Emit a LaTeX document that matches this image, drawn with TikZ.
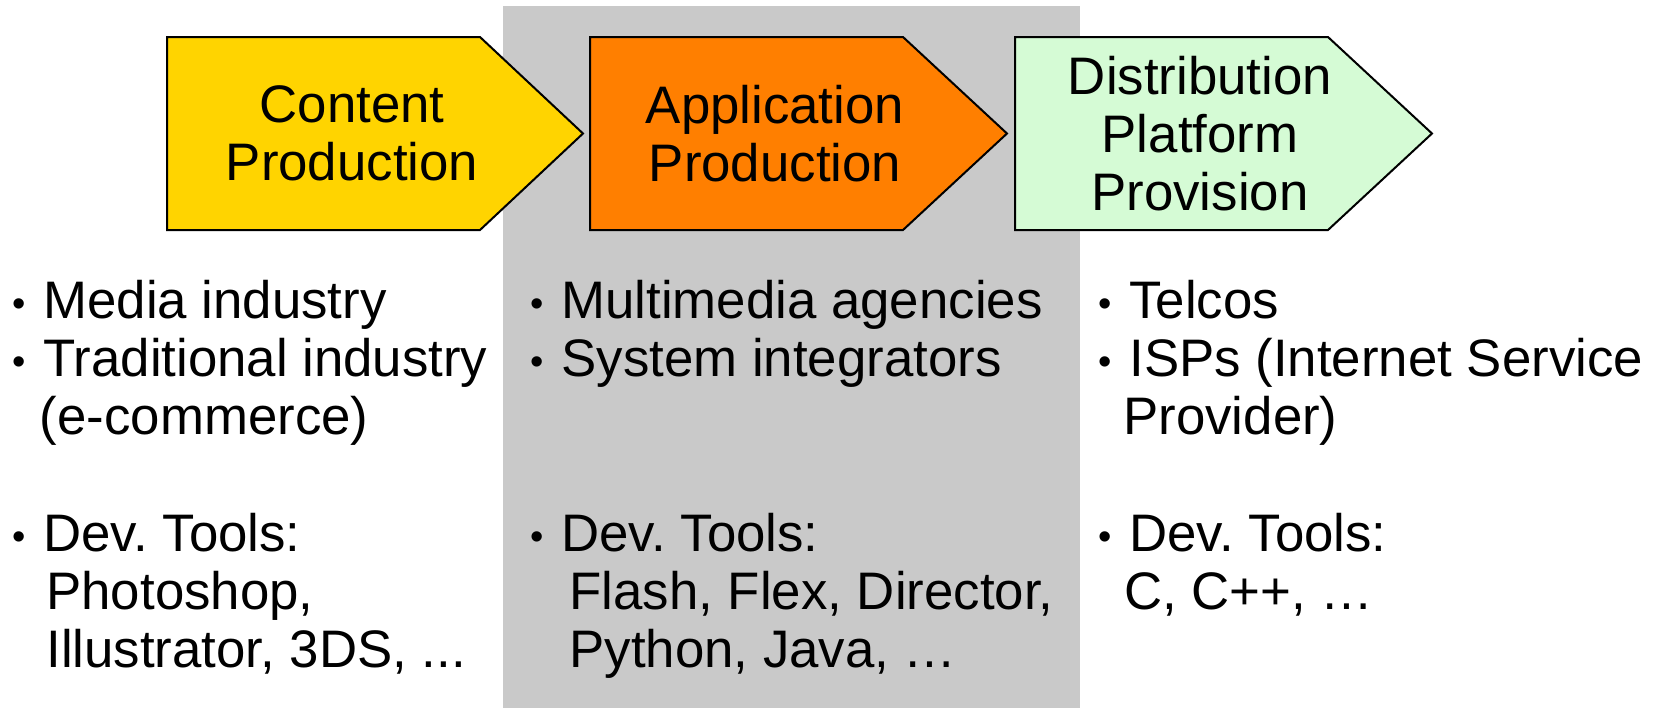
\documentclass[tikz,border=0pt]{standalone}
\usepackage{fontspec}
\setmainfont{Liberation Sans}
\frenchspacing

\definecolor{bandgray}{RGB}{201,201,201}
\definecolor{contentyellow}{RGB}{255,212,0}
\definecolor{apporange}{RGB}{255,127,0}
\definecolor{distgreen}{RGB}{213,251,213}

\tikzset{
  stage/.style={draw=black, line width=1pt, line join=miter},
  stagetext/.style={align=center, inner sep=0pt, font=\fontsize{26.4}{29}\selectfont},
  actors/.style={align=left, anchor=north west, inner sep=0pt, font=\fontsize{26.4}{29}\selectfont},
}
\newcommand{\blt}{\makebox[18pt][l]{\hspace{2.5pt}\raisebox{0.04em}{\scalebox{0.72}{\textbullet}}}}

\begin{document}
\begin{tikzpicture}[x=0.5pt, y=-0.5pt]
\useasboundingbox (0,0) rectangle (1662,708);

% grey band behind the middle column
\fill[bandgray] (503,6) rectangle (1080,708);

% value chain arrows
\filldraw[stage, fill=contentyellow] (167,37) -- (480,37) -- (583,133.5) -- (480,230) -- (167,230) -- cycle;
\filldraw[stage, fill=apporange] (590,37) -- (903,37) -- (1007,133.5) -- (903,230) -- (590,230) -- cycle;
\filldraw[stage, fill=distgreen] (1015,37) -- (1328,37) -- (1432,133.5) -- (1328,230) -- (1015,230) -- cycle;

\node[stagetext] (content) at (352,133.5) {Content\\Production};
\node[stagetext] (application) at (775,133.5) {Application\\Production};
\node[stagetext] (distribution) at (1200,133.5) {Distribution\\Platform\\Provision};

% who does it, and with what
\node[actors] (contentlist) at (7,280) {\blt Media industry\\
  \blt Traditional industry\\
  \hspace*{16.3pt}(e-commerce)\\[29.5pt]
  \blt Dev. Tools:\\
  \hspace*{19.5pt}Photoshop,\\
  \hspace*{19.5pt}Illustrator, 3DS, ...};
\node[actors] (applist) at (525,280) {\blt Multimedia agencies\\
  \blt System integrators\\[58.5pt]
  \blt Dev. Tools:\\
  \hspace*{22pt}Flash, Flex, Director,\\
  \hspace*{22pt}Python, Java, \dots};
\node[actors] (distlist) at (1093,280) {\blt Telcos\\
  \blt ISPs (Internet Service\\
  \hspace*{15pt}Provider)\\[29.5pt]
  \blt Dev. Tools:\\
  \hspace*{15.5pt}C, C++, \dots};
\end{tikzpicture}
\end{document}
